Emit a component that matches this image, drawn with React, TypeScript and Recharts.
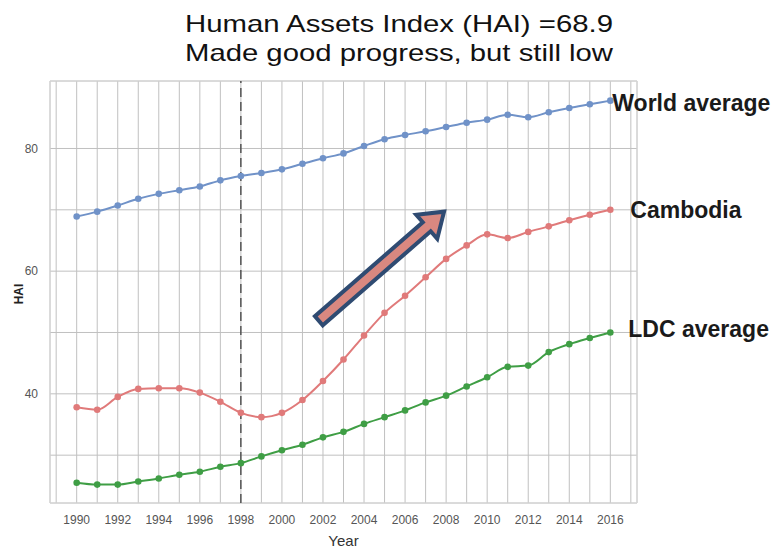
import React from 'react';
import {
  LineChart,
  Line,
  XAxis,
  YAxis,
  CartesianGrid,
  ReferenceLine,
  ReferenceArea,
} from 'recharts';

const years = [1990, 1991, 1992, 1993, 1994, 1995, 1996, 1997, 1998, 1999, 2000, 2001, 2002, 2003, 2004, 2005, 2006, 2007, 2008, 2009, 2010, 2011, 2012, 2013, 2014, 2015, 2016];
const worldAverage = [68.9, 69.7, 70.7, 71.8, 72.6, 73.2, 73.8, 74.8, 75.5, 76.0, 76.6, 77.5, 78.4, 79.2, 80.4, 81.5, 82.2, 82.8, 83.5, 84.2, 84.7, 85.5, 85.1, 85.9, 86.6, 87.2, 87.8];
const cambodia = [37.8, 37.4, 39.5, 40.8, 40.9, 40.9, 40.2, 38.7, 36.9, 36.2, 36.9, 39.0, 42.1, 45.6, 49.5, 53.2, 56.0, 59.0, 62.0, 64.2, 66.0, 65.4, 66.4, 67.3, 68.3, 69.2, 70.0];
const ldcAverage = [25.5, 25.2, 25.2, 25.7, 26.2, 26.8, 27.3, 28.1, 28.7, 29.8, 30.8, 31.7, 32.9, 33.8, 35.1, 36.2, 37.3, 38.6, 39.7, 41.2, 42.7, 44.4, 44.6, 46.8, 48.1, 49.1, 50.0];

const xGridTicks = [1989, 1990, 1991, 1992, 1993, 1994, 1995, 1996, 1997, 1998, 1999, 2000, 2001, 2002, 2003, 2004, 2005, 2006, 2007, 2008, 2009, 2010, 2011, 2012, 2013, 2014, 2015, 2016, 2017];
const xTickLabels = [1990, 1992, 1994, 1996, 1998, 2000, 2002, 2004, 2006, 2008, 2010, 2012, 2014, 2016];
const yGridTicks = [30, 40, 50, 60, 70, 80];
const yTickLabels = [40, 60, 80];
const xDomain = [1988.7, 2017.3];
const yDomain = [22.2, 91];
const markerYear = 1998;
const arrowFrom = { year: 2001.8, hai: 51.9 };
const arrowTo = { year: 2007.9, hai: 69.7 };
const titleLines = ['Human Assets Index (HAI) =68.9', 'Made good progress, but still low'];

const data = years.map((y, i) => ({
  year: y,
  world: worldAverage[i],
  cambodia: cambodia[i],
  ldc: ldcAverage[i],
}));

const BLUE = '#7092c8';
const RED = '#e07a7a';
const GREEN = '#3f9e45';

const endLabel = (text: string, dx: number, dy: number) => (props: any) => {
  const { x, y, index } = props;
  if (index !== years.length - 1) return null;
  return (
    <text
      x={Number(x) + dx}
      y={Number(y) + dy}
      dominantBaseline="central"
      fontFamily="'Liberation Sans', Arial, sans-serif"
      fontWeight="bold"
      fontSize={23}
      fill="#1a1a1a"
    >
      {text}
    </text>
  );
};

const ArrowShape = (props: any) => {
  const { x1, y1, x2, y2 } = props;
  if ([x1, y1, x2, y2].some((v) => v == null || isNaN(Number(v)))) return null;
  const dx = x2 - x1;
  const dy = y2 - y1;
  const len = Math.sqrt(dx * dx + dy * dy);
  const ux = dx / len;
  const uy = dy / len;
  const px = -uy;
  const py = ux;
  const shaftW = 6;
  const headW = 16;
  const headL = 23;
  const bx = x2 - ux * headL;
  const by = y2 - uy * headL;
  const pts = [
    [x1 + px * shaftW, y1 + py * shaftW],
    [bx + px * shaftW, by + py * shaftW],
    [bx + px * headW, by + py * headW],
    [x2, y2],
    [bx - px * headW, by - py * headW],
    [bx - px * shaftW, by - py * shaftW],
    [x1 - px * shaftW, y1 - py * shaftW],
  ];
  return (
    <polygon
      points={pts.map((p) => `${p[0]},${p[1]}`).join(' ')}
      fill="#d98880"
      stroke="#2f4b72"
      strokeWidth={4}
      strokeLinejoin="miter"
    />
  );
};

const yLabel = () => (
  <text
    x={19}
    y={294}
    transform="rotate(-90, 19, 294)"
    textAnchor="middle"
    dominantBaseline="central"
    fontFamily="'Liberation Sans', Arial, sans-serif"
    fontWeight="bold"
    fontSize={12}
    fill="#222"
  >
    HAI
  </text>
);

export default function App() {
  return (
    <div style={{ position: 'absolute', left: 0, top: 0, width: 782, height: 549, background: '#fff' }}>
      <LineChart
        width={782}
        height={549}
        data={data}
        margin={{ top: 81, right: 145, left: 10, bottom: 0 }}
      >
        <CartesianGrid stroke="#c0c0c0" strokeWidth={1} />
        <ReferenceArea
          x1={xDomain[0]}
          x2={xDomain[1]}
          y1={yDomain[0]}
          y2={yDomain[1]}
          fill="none"
          stroke="#d6d6d6"
          ifOverflow="visible"
        />
        <XAxis
          dataKey="year"
          type="number"
          domain={xDomain}
          ticks={xGridTicks}
          interval={0}
          allowDataOverflow
          height={46}
          axisLine={false}
          tickLine={false}
          tickMargin={6}
          tickFormatter={(v: number) => (xTickLabels.includes(v) ? String(v) : '')}
          tick={{ fontSize: 12, fill: '#555', fontFamily: "'Liberation Sans', Arial, sans-serif" }}
          label={{
            value: 'Year',
            position: 'insideBottom',
            offset: 3,
            style: { fontSize: 15, fill: '#333', fontFamily: "'Liberation Sans', Arial, sans-serif" },
          }}
        />
        <YAxis
          type="number"
          domain={yDomain}
          ticks={yGridTicks}
          interval={0}
          allowDataOverflow
          width={40}
          axisLine={false}
          tickLine={false}
          tickMargin={6}
          tickFormatter={(v: number) => (yTickLabels.includes(v) ? String(v) : '')}
          tick={{ fontSize: 12, fill: '#555', fontFamily: "'Liberation Sans', Arial, sans-serif" }}
          label={{ content: yLabel }}
        />
        <ReferenceLine x={markerYear} stroke="#333" strokeDasharray="9 5" strokeWidth={1.2} />
        <Line
          dataKey="world"
          type="monotone"
          stroke={BLUE}
          strokeWidth={2}
          dot={{ r: 3.3, fill: BLUE, stroke: BLUE, strokeWidth: 0 }}
          isAnimationActive={false}
          label={endLabel('World average', 2, 2)}
        />
        <Line
          dataKey="cambodia"
          type="monotone"
          stroke={RED}
          strokeWidth={2}
          dot={{ r: 3.3, fill: RED, stroke: RED, strokeWidth: 0 }}
          isAnimationActive={false}
          label={endLabel('Cambodia', 20, 0)}
        />
        <Line
          dataKey="ldc"
          type="monotone"
          stroke={GREEN}
          strokeWidth={2}
          dot={{ r: 3.3, fill: GREEN, stroke: GREEN, strokeWidth: 0 }}
          isAnimationActive={false}
          label={endLabel('LDC average', 18, -3)}
        />
        <ReferenceLine
          segment={[
            { x: arrowFrom.year, y: arrowFrom.hai },
            { x: arrowTo.year, y: arrowTo.hai },
          ]}
          ifOverflow="visible"
          shape={ArrowShape}
        />
      </LineChart>
      <svg
        width={782}
        height={549}
        style={{ position: 'absolute', left: 0, top: 0, pointerEvents: 'none' }}
      >
        {titleLines.map((t, i) => (
          <text
            key={i}
            x={399}
            y={32 + i * 29}
            textAnchor="middle"
            fontFamily="'Liberation Sans', Arial, sans-serif"
            fontSize={24}
            fill="#111"
            textLength={428}
            lengthAdjust="spacingAndGlyphs"
          >
            {t}
          </text>
        ))}
      </svg>
    </div>
  );
}
